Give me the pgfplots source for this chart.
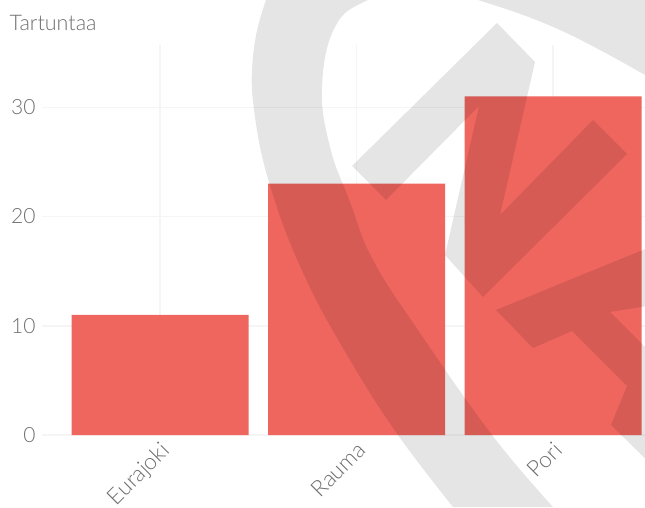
\documentclass[border=0pt]{standalone}
\usepackage{fontspec}
\setmainfont{Lato Light}
\usepackage{pgfplots}
\pgfplotsset{compat=1.18}
\definecolor{barred}{RGB}{239,102,95}
\definecolor{gridgray}{RGB}{245,245,245}
\definecolor{textgray}{RGB}{110,110,110}
\begin{document}
\begin{tikzpicture}[x=1pt,y=1pt]
\path[use as bounding box,clip] (0,0) rectangle (645,507);
\begin{axis}[
    at={(42pt,72pt)},
    anchor=south west,
    scale only axis,
    width=603pt,
    height=390pt,
    xmin=-0.6005, xmax=2.468,
    ymin=0, ymax=35.7,
    ybar,
    bar width=177pt,
    axis line style={draw=none},
    major tick length=0pt,
    xtick=data,
    xticklabels={Eurajoki,Rauma,Pori},
    ytick={0,10,20,30},
    grid=major,
    grid style={gridgray,line width=1.5pt},
    xticklabel style={rotate=45,anchor=north east,font=\fontsize{22.5}{22.5}\selectfont,text=textgray,xshift=-1pt,yshift=0pt},
    yticklabel style={font=\fontsize{21}{21}\selectfont,text=textgray,xshift=-3pt},
    /pgf/number format/assume math mode=true,
    title={Tartuntaa},
    title style={anchor=base west,at={(axis description cs:-0.0596,1.021)},font=\fontsize{21.5}{21.5}\selectfont,text=textgray},
]
\addplot[fill=barred,draw=none] coordinates {(0,11) (1,23) (2,31)};
\end{axis}
% watermark laid over everything
\fill[black,opacity=0.1]
  plot[smooth,tension=0.7] coordinates {(453,0) (398,72) (350,147) (305,230) (272,315) (255,390) (253,450) (266,507) (290,560)}
  -- (700,570) -- (700,400) --
  plot[smooth,tension=0.7] coordinates {(645,432) (560,477) (478,507) (420,522) (368,507) (335,480) (322,420) (330,360) (350,305) (373,247) (420,174) (492,72) (553,0)}
  -- cycle;
\fill[black,opacity=0.1]
  (497,484) -- (535,445) -- (500,292) -- (593,387) -- (627,353) -- (483,210) -- (445,252) -- (479,401) -- (386,307) -- (352,341) -- cycle
  (496,197) -- (660,264) -- (660,203) -- (610,195) -- (660,145) -- (660,34) -- (611,82) -- (627,121) -- (572,176) -- (533,159) -- cycle;
\end{tikzpicture}
\end{document}
